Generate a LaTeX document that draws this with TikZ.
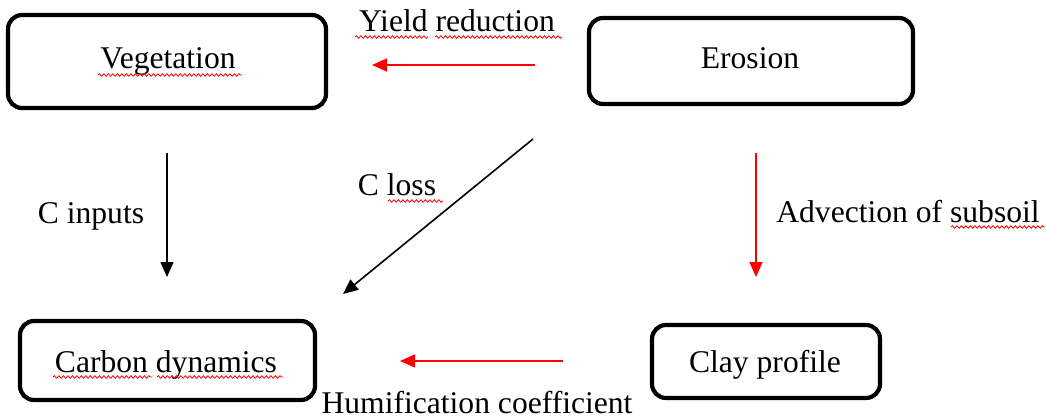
\documentclass[tikz,border=0pt]{standalone}
\usepackage{fontspec}
\setmainfont{Liberation Serif}[Ligatures={NoCommon}]
\usetikzlibrary{arrows.meta,decorations.pathmorphing}
\begin{document}
\begin{tikzpicture}[x=1pt,y=-1pt,
  box/.style={draw, line width=4.2pt, rounded corners=14pt, inner sep=0pt},
  lbl/.style={font=\fontsize{31.6}{38}\selectfont, inner sep=0pt, anchor=base},
  flow/.style={line width=1.6pt, -{Triangle[length=15pt,width=13pt]}},
  redflow/.style={flow, red},
  squiggle/.style={red, line width=0.8pt, decorate,
    decoration={snake, amplitude=1.3pt, segment length=4.5pt}}]
\useasboundingbox (0,0) rectangle (1046,420);

% boxes
\node[box, minimum width=318pt, minimum height=93pt] (veg) at (167,61.5) {};
\node[box, minimum width=324pt, minimum height=86pt] (ero) at (751,61) {};
\node[box, minimum width=295pt, minimum height=79pt] (carb) at (167.5,360.5) {};
\node[box, minimum width=228pt, minimum height=73pt] (clay) at (766,361.5) {};

% box texts
\node[lbl] (tveg) at (168,69) {Vegetation};
\node[lbl] (tero) at (750,69) {Erosion};
\node[lbl] (tcarb) at (166,372) {Carbon dynamics};
\node[lbl] (tclay) at (765,372) {Clay profile};

% flow labels
\node[lbl] (lyield) at (457,32) {Yield reduction};
\node[lbl] (linp) at (91,223) {C inputs};
\node[lbl] (lloss) at (397,195) {C loss};
\node[lbl] (ladv) at (908,222) {Advection of subsoil};
\node[lbl] (lhum) at (477,413) {Humification coefficient};

% arrow end points
\coordinate (y1) at (535,65);   \coordinate (y2) at (372,65);
\coordinate (i1) at (167,153);  \coordinate (i2) at (167,277);
\coordinate (l1) at (533,139);  \coordinate (l2) at (343,294);
\coordinate (a1) at (756,153);  \coordinate (a2) at (756,277);
\coordinate (h1) at (563,361);  \coordinate (h2) at (400,361);

\draw[redflow] (y1) -- (y2);
\draw[flow] (i1) -- (i2);
\draw[flow] (l1) -- (l2);
\draw[redflow] (a1) -- (a2);
\draw[redflow] (h1) -- (h2);

% spell-check underlines
\draw[squiggle] (98,75) -- (242,75);
\draw[squiggle] (355,37) -- (428,37);
\draw[squiggle] (435,37) -- (562,37);
\draw[squiggle] (388,201) -- (443,201);
\draw[squiggle] (951,227) -- (1045,227);
\draw[squiggle] (53,377) -- (152,377);
\draw[squiggle] (157,377) -- (283,377);
\end{tikzpicture}
\end{document}
